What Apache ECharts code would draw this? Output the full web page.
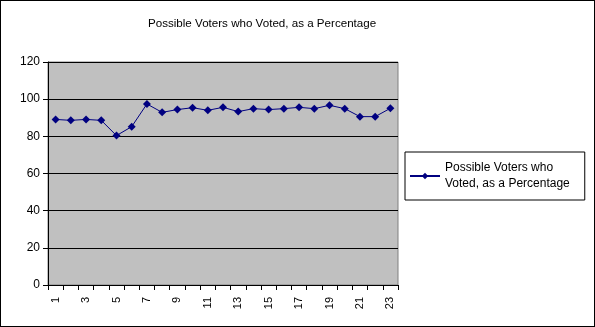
<!DOCTYPE html>
<html><head><meta charset="utf-8">
<script src="https://cdn.jsdelivr.net/npm/echarts@6/dist/echarts.min.js"></script>
<style>html,body{margin:0;padding:0;background:#fff}#c{width:595px;height:327px;box-sizing:border-box;border:1px solid #000}</style>
</head><body><div id="c"></div>
<script>
const categories = ['1','2','3','4','5','6','7','8','9','10','11','12','13','14','15','16','17','18','19','20','21','22','23'];
const values = [89.1, 88.6, 89.1, 88.6, 80.4, 85.2, 97.4, 92.9, 94.4, 95.4, 94.0, 95.6, 93.3, 94.9, 94.4, 94.9, 95.6, 94.9, 96.7, 94.9, 90.6, 90.6, 95.1];
const seriesName = 'Possible Voters who Voted, as a Percentage';
const legendLines = ['Possible Voters who', 'Voted, as a Percentage'];
const titleText = 'Possible Voters who Voted, as a Percentage';
const font = 'Liberation Sans, Arial, sans-serif';
const chart = echarts.init(document.getElementById('c'), null, {renderer:'canvas'});
chart.setOption({
  animation:false,
  textStyle:{fontFamily:font},
  title:{text:titleText,left:147,top:17,padding:0,textStyle:{fontSize:11.6,fontWeight:'normal',color:'#000',fontFamily:font}},
  grid:{left:47,right:196,top:61,bottom:41,show:true,backgroundColor:'#C0C0C0',borderColor:'#808080',borderWidth:1},
  legend:{
    left:404,top:151,
    padding:[8,15,8,4],
    borderColor:'#000',borderWidth:1,backgroundColor:'#fff',
    itemWidth:30,itemHeight:8,itemGap:0,
    formatter:function(){return legendLines.join('\n');},
    textStyle:{fontSize:12,color:'#000',fontFamily:font,lineHeight:16},
    data:[{name:seriesName}]
  },
  xAxis:{type:'category',data:categories,boundaryGap:true,
    axisLine:{lineStyle:{color:'#000'}},
    axisTick:{show:true,interval:0,length:5,lineStyle:{color:'#000'}},
    axisLabel:{interval:1,rotate:90,color:'#000',fontSize:11,fontFamily:font,margin:12},
    splitLine:{show:false}},
  yAxis:{type:'value',min:0,max:120,interval:20,
    axisLine:{show:true,lineStyle:{color:'#000'}},
    axisTick:{show:true,length:5,lineStyle:{color:'#000'}},
    axisLabel:{color:'#000',fontSize:12,fontFamily:font,margin:8},
    splitLine:{show:true,lineStyle:{color:'#000',width:1}}},
  series:[{name:seriesName,type:'line',data:values,
    symbol:'diamond',symbolSize:8,
    lineStyle:{color:'#000080',width:1},
    itemStyle:{color:'#000080'}}]
});
</script></body></html>
